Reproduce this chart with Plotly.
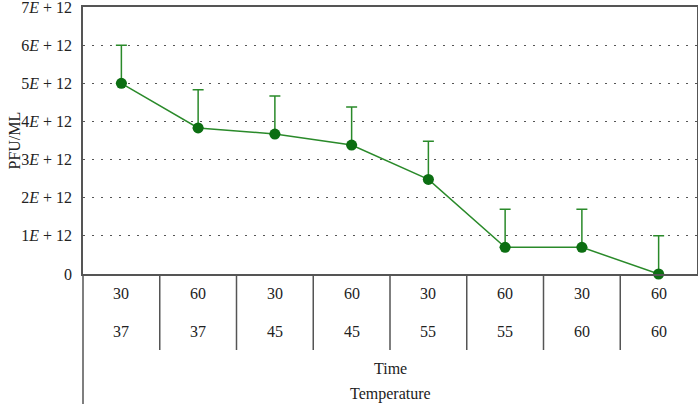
import plotly.graph_objects as go

time_labels = ["30", "60", "30", "60", "30", "60", "30", "60"]
temp_labels = ["37", "37", "45", "45", "55", "55", "60", "60"]
pfu = [5.0e12, 3.83e12, 3.67e12, 3.38e12, 2.48e12, 0.70e12, 0.70e12, 0.0]
err_plus = [1.0e12, 1.0e12, 1.0e12, 1.0e12, 1.0e12, 1.0e12, 1.0e12, 1.0e12]
y_tickvals = [0, 1e12, 2e12, 3e12, 4e12, 5e12, 6e12, 7e12]
y_ticktext = ["0", "1<i>E</i> + 12", "2<i>E</i> + 12", "3<i>E</i> + 12",
              "4<i>E</i> + 12", "5<i>E</i> + 12", "6<i>E</i> + 12", "7<i>E</i> + 12"]
row_titles = ["Time", "Temperature"]

FONT = "Liberation Serif"
AX = "#555555"
n = len(pfu)
xs = [i + 0.5 for i in range(n)]
PH = 267  # plot height in px

fig = go.Figure()
fig.add_trace(go.Scatter(
    x=xs, y=pfu, mode="lines+markers",
    line=dict(color="#2a8a2a", width=1.5),
    marker=dict(color="#0c6e12", size=11),
    error_y=dict(type="data", array=err_plus, arrayminus=[0]*n, symmetric=False,
                 color="#2a8a2a", thickness=1.5, width=5.5),
    cliponaxis=False, showlegend=False,
))

tf = dict(family=FONT, size=16, color="#222")
annotations = []
for i in range(n):
    annotations.append(dict(x=xs[i], y=0, xref="x", yref="paper", yshift=-19,
                            yanchor="middle", text=time_labels[i], showarrow=False, font=tf))
    annotations.append(dict(x=xs[i], y=0, xref="x", yref="paper", yshift=-57,
                            yanchor="middle", text=temp_labels[i], showarrow=False, font=tf))
annotations.append(dict(x=0.5, y=0, xref="paper", yref="paper", yshift=-94,
                        yanchor="middle", xanchor="center",
                        text=row_titles[0], showarrow=False, font=tf))
annotations.append(dict(x=0.5, y=0, xref="paper", yref="paper", yshift=-120,
                        yanchor="middle", xanchor="center",
                        text=row_titles[1], showarrow=False, font=tf))
annotations.append(dict(x=0, y=0.5, xref="paper", yref="paper", xshift=-69,
                        xanchor="center", yanchor="middle",
                        text="PFU/ML", textangle=-90, showarrow=False, font=tf))

shapes = []
for i in range(1, n):
    shapes.append(dict(type="line", xref="x", yref="paper", x0=i, x1=i,
                       y0=0, y1=-76 / PH, line=dict(color=AX, width=1.5)))
shapes.append(dict(type="line", xref="paper", yref="paper", x0=0, x1=0,
                   y0=0, y1=-135 / PH, line=dict(color=AX, width=1.5)))

fig.update_layout(
    width=698, height=404,
    margin=dict(l=83, r=1, t=7, b=130, autoexpand=False),
    paper_bgcolor="white", plot_bgcolor="white",
    font=tf,
    xaxis=dict(range=[0, n], showticklabels=False, showgrid=False, zeroline=False,
               showline=True, linecolor=AX, linewidth=1.5, mirror=True, ticks="",
               automargin=False),
    yaxis=dict(range=[0, 7.0001e12], tickvals=y_tickvals, ticktext=y_ticktext,
               showgrid=True, gridcolor="#555", gridwidth=1, griddash="1.5px,7.5px",
               zeroline=False, showline=True, linecolor=AX, linewidth=1.5, mirror=True,
               ticks="", ticklabelstandoff=6, automargin=False, ticklabeloverflow="allow",
               tickfont=tf),
    annotations=annotations, shapes=shapes,
)

fig.write_html("out.html", config={"displayModeBar": False},
               post_script="document.body.style.margin='0';")
